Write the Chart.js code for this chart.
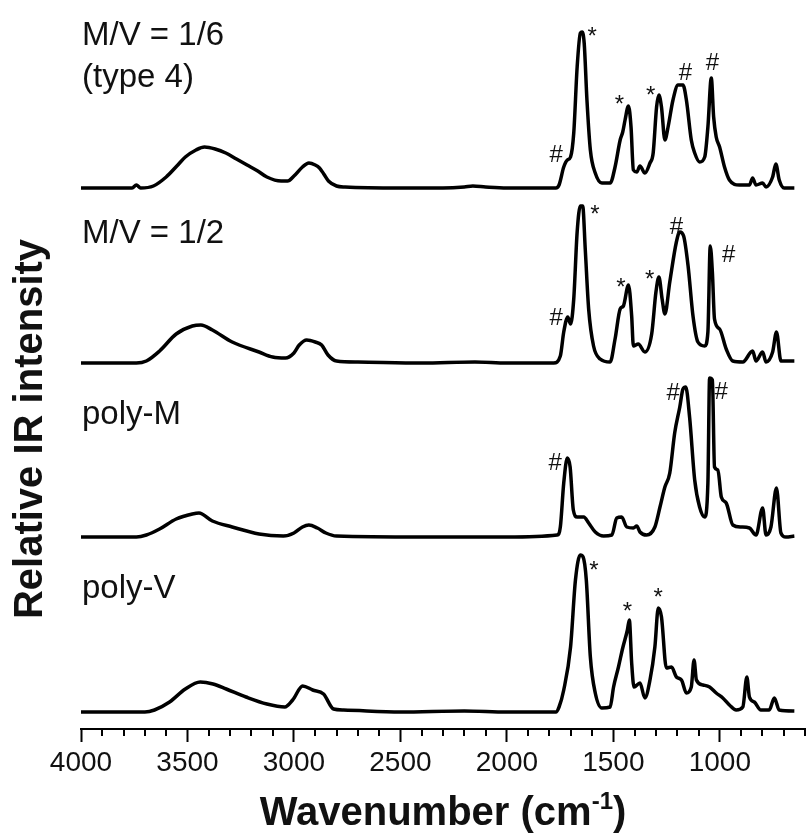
<!DOCTYPE html>
<html>
<head>
<meta charset="utf-8">
<script src="https://cdn.jsdelivr.net/npm/chart.js@4.4.1/dist/chart.umd.min.js"></script>
<style>
  html, body { margin: 0; padding: 0; background: #fff; }
</style>
</head>
<body>
<canvas id="ir" width="809" height="834"></canvas>
<script>
// IR spectra: wavenumber (cm-1) and intensity (arb. units)

const wnMV16 = [4000, 3760, 3740, 3720, 3660, 3600, 3550, 3510, 3460, 3420, 3370, 3320, 3270, 3220, 3170, 3127, 3060, 3030, 3000, 2960, 2930, 2900, 2880, 2860, 2838, 2800, 2760, 2500, 2300, 2200, 2160, 2100, 2000, 1800, 1770, 1755, 1733, 1716, 1701, 1686, 1670, 1655, 1647, 1637, 1624, 1608, 1585, 1554, 1515, 1492, 1468, 1456, 1445, 1429, 1417, 1406, 1390, 1375, 1352, 1328, 1313, 1297, 1286, 1274, 1258, 1243, 1220, 1196, 1173, 1157, 1134, 1118, 1095, 1071, 1056, 1040, 1029, 1017, 1001, 978, 955, 908, 861, 846, 830, 799, 783, 752, 737, 721, 698, 650];
const irMV16 = [0, 0, 3, 0, 2, 11, 22, 31, 38, 41, 39, 35, 29, 23, 17, 11, 7, 7, 12, 21, 25, 23, 20, 14, 7, 2, 1, 0, 0, 1, 2, 1, 0, 0, 0, 3, 21, 28, 31, 55, 121, 155, 156, 145, 88, 38, 15, 5, 5, 21, 48, 56, 68, 82, 61, 18, 16, 22, 15, 25, 35, 81, 93, 81, 48, 61, 88, 103, 103, 88, 48, 35, 26, 31, 61, 110, 71, 51, 41, 21, 8, 3, 3, 10, 3, 5, 1, 11, 24, 8, 0, 0];

const wnMV12 = [4000, 3740, 3693, 3631, 3553, 3477, 3437, 3383, 3290, 3164, 3100, 3040, 3000, 2975, 2940, 2900, 2870, 2840, 2800, 2700, 2400, 2150, 2000, 1780, 1749, 1733, 1714, 1701, 1686, 1670, 1655, 1644, 1632, 1616, 1593, 1562, 1515, 1492, 1468, 1453, 1429, 1414, 1406, 1383, 1352, 1320, 1300, 1286, 1271, 1258, 1235, 1204, 1188, 1170, 1149, 1126, 1103, 1071, 1056, 1045, 1035, 1025, 1001, 970, 939, 892, 846, 830, 799, 783, 752, 734, 713, 650];
const irMV12 = [0, 0, 2, 12, 29, 37, 38, 33, 21, 11, 6, 5, 10, 18, 23, 21, 18, 8, 2, 1, 0, 1, 0, 0, 7, 31, 46, 39, 64, 131, 157, 157, 114, 54, 17, 4, 1, 24, 54, 57, 78, 47, 17, 19, 11, 29, 71, 86, 64, 49, 81, 121, 131, 127, 97, 47, 21, 17, 31, 117, 91, 44, 34, 14, 2, 1, 12, 2, 11, 1, 11, 31, 2, 2];

const wnPolyM = [4000, 3740, 3693, 3631, 3553, 3477, 3446, 3383, 3290, 3164, 3050, 3000, 2960, 2930, 2890, 2850, 2800, 2400, 2000, 1764, 1749, 1733, 1716, 1703, 1688, 1670, 1639, 1616, 1585, 1546, 1507, 1484, 1461, 1437, 1406, 1390, 1375, 1344, 1305, 1281, 1258, 1235, 1212, 1188, 1173, 1160, 1142, 1118, 1095, 1071, 1056, 1048, 1035, 1025, 1009, 993, 970, 939, 900, 861, 830, 799, 783, 760, 734, 713, 690, 650];
const irPolyM = [0, 0, 2, 8, 18, 23, 24, 16, 10, 3, 1, 4, 10, 12, 9, 4, 1, 0, 0, 2, 10, 54, 79, 70, 27, 20, 20, 14, 5, 1, 2, 19, 20, 10, 9, 11, 5, 2, 10, 30, 50, 64, 104, 130, 148, 150, 120, 57, 30, 20, 54, 159, 157, 70, 67, 40, 34, 12, 10, 9, 2, 29, 2, 10, 49, 4, 0, 1];

const wnPolyV = [4000, 3700, 3655, 3584, 3510, 3440, 3380, 3318, 3225, 3127, 3043, 3006, 2959, 2912, 2861, 2814, 2767, 2500, 2200, 2000, 1770, 1755, 1733, 1701, 1678, 1655, 1642, 1627, 1608, 1585, 1554, 1515, 1499, 1476, 1456, 1434, 1425, 1414, 1403, 1375, 1352, 1328, 1305, 1289, 1274, 1251, 1227, 1204, 1180, 1157, 1134, 1121, 1110, 1079, 1048, 1017, 986, 955, 923, 892, 873, 861, 838, 807, 768, 744, 721, 650];
const irPolyV = [0, 0, 2, 10, 23, 30, 28, 23, 15, 8, 5, 12, 26, 22, 18, 3, 2, 0, 1, 0, 0, 5, 22, 65, 132, 157, 155, 132, 55, 19, 4, 5, 25, 45, 64, 82, 92, 49, 25, 29, 14, 32, 65, 104, 95, 44, 45, 35, 32, 19, 25, 52, 32, 27, 25, 19, 14, 7, 2, 5, 35, 15, 10, 2, 2, 14, 2, 1];

const seriesNames = [["M/V = 1/6", "(type 4)"], ["M/V = 1/2"], ["poly-M"], ["poly-V"]];
const offsets = [524, 349, 175, 0];      // vertical shift of each trace
const nameHeight = [143, 120, 113, 114]; // where each name sits above its trace

const tickLabels = [4000, 3500, 3000, 2500, 2000, 1500, 1000];

// band assignments: wavenumber, height above the trace, symbol, trace
const markWn = [1600, 1768, 1471, 1325, 1162, 1035, 1586, 1768, 1465, 1330, 1204, 958, 1219, 994, 1773, 1591, 1434, 1289];
const markH = [156, 33, 88, 97, 115, 125, 153, 45, 80, 88, 136, 108, 144, 145, 74, 146, 105, 119];
const markSym = ["*", "#", "*", "*", "#", "#", "*", "#", "*", "*", "#", "#", "#", "#", "#", "*", "*", "*"];
const markTrace = [0, 0, 0, 0, 0, 0, 1, 1, 1, 1, 1, 1, 2, 2, 2, 3, 3, 3];

const FONT = "'Liberation Sans', Arial, Helvetica, sans-serif";
Chart.defaults.font.family = FONT;
Chart.defaults.color = "#111";

const wns = [wnMV16, wnMV12, wnPolyM, wnPolyV];
const irs = [irMV16, irMV12, irPolyM, irPolyV];

const datasets = wns.map((wn, k) => ({
  label: seriesNames[k].join(" "),
  data: wn.map((w, i) => ({ x: w, y: irs[k][i] + offsets[k] })),
  borderColor: "#000",
  borderWidth: 3.5,
  pointRadius: 0,
  fill: false,
  cubicInterpolationMode: "monotone",
}));

const decorations = {
  id: "decorations",
  afterDraw(chart) {
    const ctx = chart.ctx;
    const xs = chart.scales.x;
    const ys = chart.scales.y;
    const area = chart.chartArea;
    ctx.save();

    // minor ticks every 100 cm-1
    ctx.strokeStyle = "#000";
    ctx.lineWidth = 2;
    xs.ticks.forEach((t) => {
      if (tickLabels.includes(t.value)) return;
      const px = Math.round(xs.getPixelForValue(t.value));
      ctx.beginPath();
      ctx.moveTo(px, area.bottom);
      ctx.lineTo(px, area.bottom + 7);
      ctx.stroke();
    });

    // trace names
    ctx.fillStyle = "#111";
    ctx.font = "33px " + FONT;
    ctx.textAlign = "left";
    ctx.textBaseline = "alphabetic";
    seriesNames.forEach((lines, k) => {
      const py = ys.getPixelForValue(offsets[k] + nameHeight[k]);
      lines.forEach((s, j) => ctx.fillText(s, xs.getPixelForValue(4000) + 1, py + j * 42));
    });

    // * and # marks
    ctx.font = "24px " + FONT;
    ctx.textAlign = "center";
    ctx.textBaseline = "middle";
    markWn.forEach((w, i) => {
      const s = markSym[i];
      const py = ys.getPixelForValue(offsets[markTrace[i]] + markH[i]) + (s === "*" ? 5 : 0);
      ctx.fillText(s, xs.getPixelForValue(w), py);
    });

    // x title with superscript
    ctx.textAlign = "left";
    ctx.textBaseline = "alphabetic";
    const big = "bold 40px " + FONT;
    const small = "bold 24px " + FONT;
    const a = "Wavenumber (cm", b = "-1", c = ")";
    ctx.font = big;
    const wa = ctx.measureText(a).width, wc = ctx.measureText(c).width;
    ctx.font = small;
    const wb = ctx.measureText(b).width;
    let x0 = (area.left + area.right) / 2 - (wa + wb + wc) / 2;
    const base = 825;
    ctx.font = big;
    ctx.fillText(a, x0, base);
    ctx.font = small;
    ctx.fillText(b, x0 + wa, base - 16);
    ctx.font = big;
    ctx.fillText(c, x0 + wa + wb, base);

    // y title
    ctx.translate(31, 429);
    ctx.rotate(-Math.PI / 2);
    ctx.font = "bold 40px " + FONT;
    ctx.textAlign = "center";
    ctx.textBaseline = "middle";
    ctx.fillText("Relative IR intensity", 0, 0);

    ctx.restore();
  },
};

new Chart(document.getElementById("ir"), {
  type: "line",
  data: { datasets: datasets },
  options: {
    responsive: false,
    animation: false,
    layout: { padding: { left: 81, right: 0, top: 10, bottom: 0 } },
    plugins: { legend: { display: false }, tooltip: { enabled: false } },
    scales: {
      x: {
        type: "linear",
        reverse: true,
        min: 600,
        max: 4000,
        afterFit(scale) { scale.height = 105; },
        border: { display: true, color: "#000", width: 2 },
        grid: {
          drawOnChartArea: false,
          drawTicks: true,
          tickLength: 13,
          tickWidth: 2,
          tickColor: (ctx) => (ctx.tick && tickLabels.includes(ctx.tick.value) ? "#000" : "rgba(0,0,0,0)"),
        },
        ticks: {
          stepSize: 100,
          maxTicksLimit: 100,
          autoSkip: false,
          maxRotation: 0,
          padding: 4,
          color: "#111",
          font: { size: 28 },
          callback: (v) => (tickLabels.includes(v) ? String(v) : ""),
        },
      },
      y: {
        type: "linear",
        display: false,
        min: -17,
        max: 702,
      },
    },
  },
  plugins: [decorations],
});
</script>
</body>
</html>
